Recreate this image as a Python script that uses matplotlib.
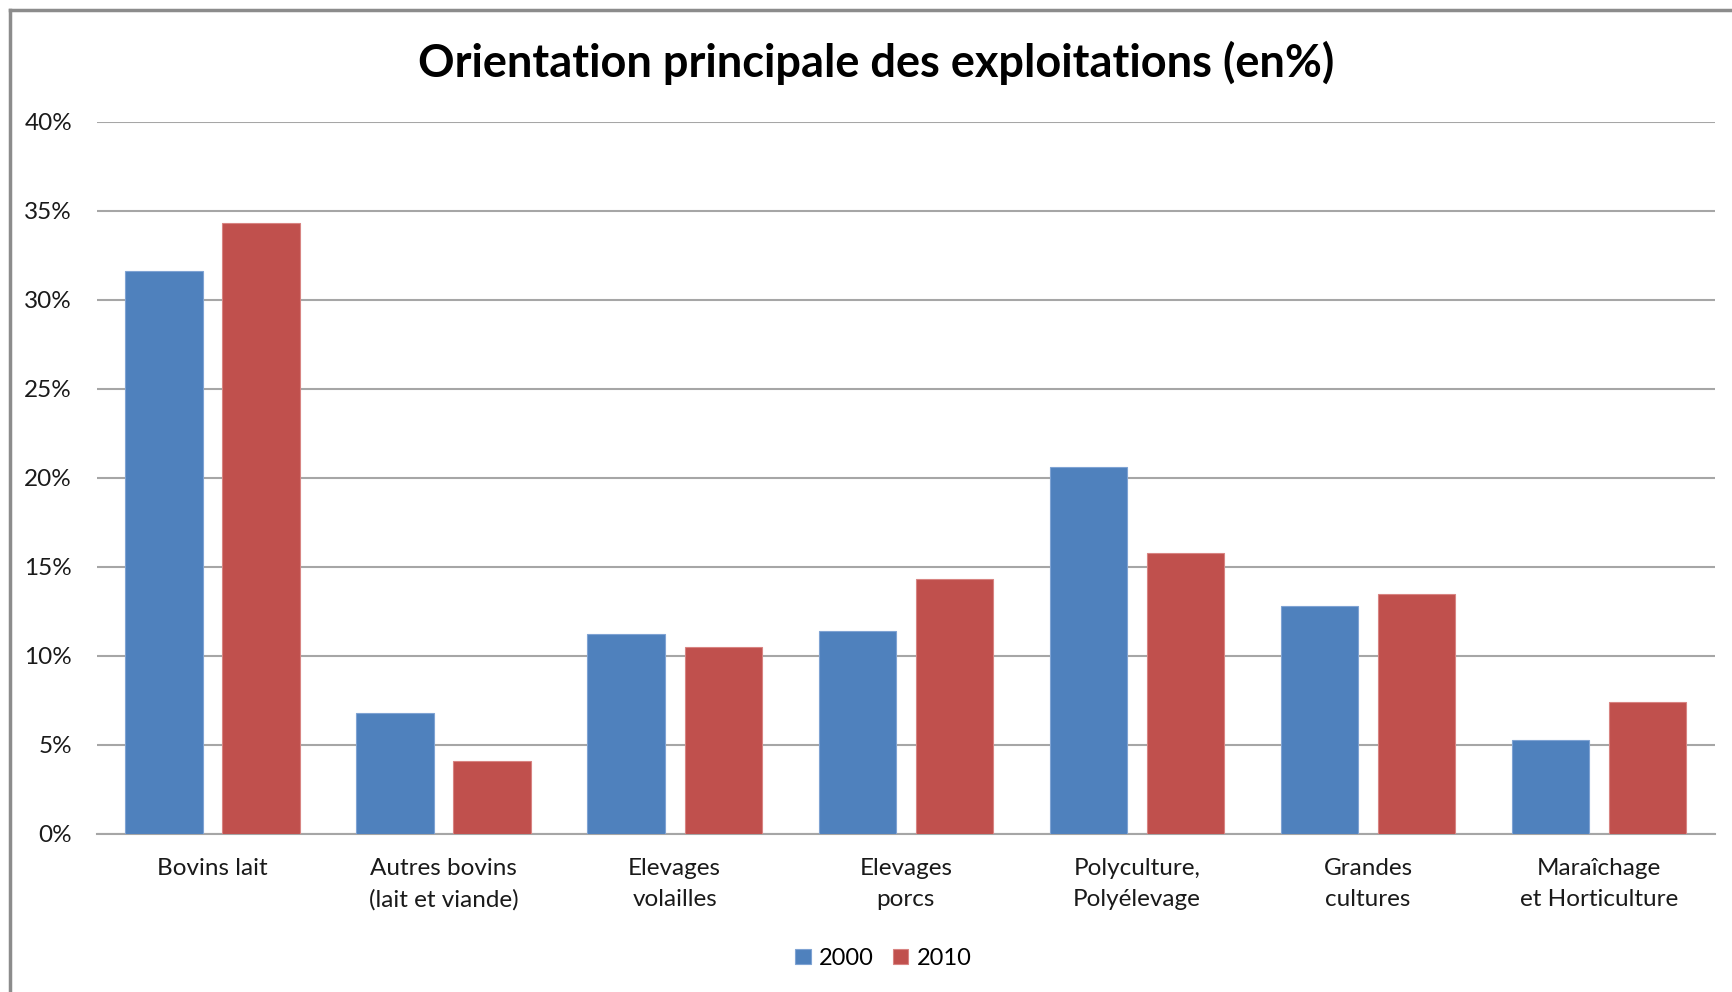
import numpy as np
import matplotlib
matplotlib.use('Agg')
import matplotlib.pyplot as plt
from matplotlib.lines import Line2D
from matplotlib.ticker import FuncFormatter

# Données (en %)
categories = ['Bovins lait', 'Autres bovins\n(lait et viande)', 'Elevages\nvolailles',
              'Elevages\nporcs', 'Polyculture,\nPolyélevage', 'Grandes\ncultures',
              'Maraîchage\net Horticulture']
val_2000 = [31.6, 6.8, 11.2, 11.4, 20.6, 12.8, 5.3]
val_2010 = [34.3, 4.1, 10.5, 14.3, 15.8, 13.5, 7.4]
yticks = [0, 5, 10, 15, 20, 25, 30, 35, 40]

plt.rcParams['font.family'] = ['Lato', 'DejaVu Sans']

fig = plt.figure(figsize=(17.32, 9.92), dpi=100)
ax = fig.add_axes([0.056, 0.1593, 0.934, 0.7182])

x = np.arange(len(categories))
w = 0.335
off = 0.21
ax.bar(x - off, val_2000, w, color='#4F81BD', edgecolor='#7FA3D3', linewidth=0.8, label='2000', zorder=3)
ax.bar(x + off, val_2010, w, color='#C0504D', edgecolor='#D88482', linewidth=0.8, label='2010', zorder=3)

ax.set_xlim(-0.5, len(categories) - 0.5)
ax.set_ylim(0, 40)
ax.set_yticks(yticks)
ax.yaxis.set_major_formatter(FuncFormatter(lambda v, p: f'{v:.0f}%'))
ax.grid(axis='y', color='#A6A6A6', linewidth=1.5, zorder=0)
ax.set_xticks(x)
ax.set_xticklabels(categories, linespacing=1.6)
ax.tick_params(axis='both', length=0, labelsize=17.5, colors='#1a1a1a')
ax.tick_params(axis='x', pad=17)
ax.tick_params(axis='y', pad=18)
for s in ['top', 'right', 'left']:
    ax.spines[s].set_visible(False)
ax.spines['bottom'].set_color('#A6A6A6')
ax.spines['bottom'].set_linewidth(1.5)

fig.text(0.506, 0.937, 'Orientation principale des exploitations (en%)',
         ha='center', va='center', fontsize=32.5, fontweight='bold', color='black')

fig.legend(loc='center', bbox_to_anchor=(0.51, 0.034), ncol=2, frameon=False,
           fontsize=17, handlelength=0.65, handleheight=0.65, handletextpad=0.35,
           columnspacing=0.8)

# cadre du graphique
fig.add_artist(Line2D([0.006, 0.006], [0, 0.99], transform=fig.transFigure,
                      color='#8C8C8C', linewidth=2.5))
fig.add_artist(Line2D([0.006, 1], [0.99, 0.99], transform=fig.transFigure,
                      color='#8C8C8C', linewidth=2.5))

fig.savefig('out.png', dpi=100)
